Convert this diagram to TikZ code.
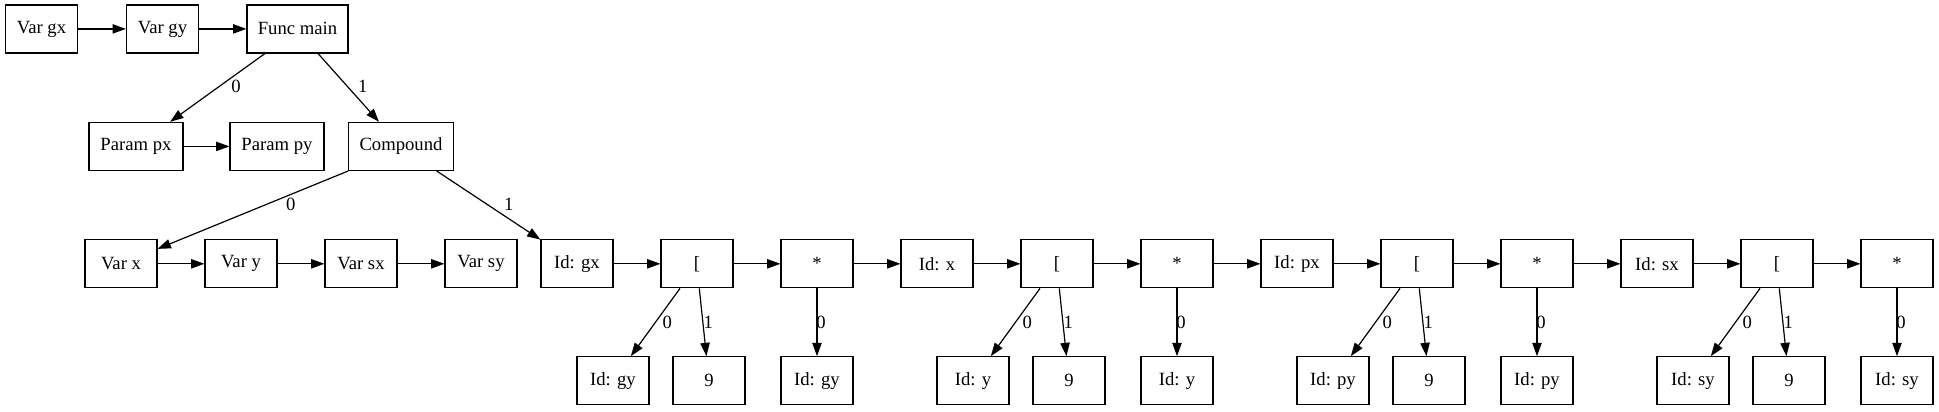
\documentclass[tikz,border=0pt]{standalone}
\usepackage{fontspec}
\setmainfont{Liberation Serif}
\usetikzlibrary{arrows.meta,calc}
\tikzset{
  box/.style={draw, line width=0.9pt, rectangle, minimum width=54pt, minimum height=36pt, inner sep=0pt, font=\fontsize{14}{16}\selectfont},
  lbl/.style={inner sep=0pt, font=\fontsize{14}{16}\selectfont},
  conn/.style={draw, line width=0.9pt, -{Triangle[length=10pt,width=7pt]}},
}
\begin{document}
\begin{tikzpicture}[x=0.75pt,y=-0.75pt]
\useasboundingbox (0,0) rectangle (1939,411);
% row 1
\node[box] (vgx) at (41.5,28.9) {Var gx};
\node[box] (vgy) at (162.5,28.9) {Var gy};
\node[box, minimum width=75.75pt] (fm) at (297.5,28.9) {Func main};
% row 2
\node[box, minimum width=70.5pt] (ppx) at (136,146.4) {Param px};
\node[box, minimum width=70.5pt] (ppy) at (277,146.4) {Param py};
\node[box, minimum width=78.4pt] (cmp) at (401,146.4) {Compound};
% row 3 vars
\node[box] (vx) at (121,263.8) {Var x};
\node[box] (vy) at (241,263.8) {Var y};
\node[box] (vsx) at (361,263.8) {Var sx};
\node[box] (vsy) at (481,263.8) {Var sy};
% groups
\foreach \i/\a/\b in {0/gx/gy,1/x/y,2/px/py,3/sx/sy}{
  \node[box] (id\i) at ({577+360*\i},263.8) {Id: \a};
  \node[box] (br\i) at ({697+360*\i},263.8) {[};
  \node[box] (st\i) at ({817+360*\i},263.8) {*};
  \node[box] (L\i) at ({613+360*\i},380.8) {Id: \b};
  \node[box] (N\i) at ({709+360*\i},380.8) {9};
  \node[box] (R\i) at ({817+360*\i},380.8) {Id: \b};
  \draw[conn] (id\i) -- (br\i);
  \draw[conn] (br\i) -- (st\i);
  \draw[conn] ($(br\i.south)+(-17,0)$) -- (L\i);
  \draw[conn] ($(br\i.south)+(2.3,0)$) -- (N\i);
  \draw[conn] (st\i) -- (R\i);
  \node[lbl] (la\i) at ({667.3+360*\i},322.3) {0};
  \node[lbl] (lb\i) at ({708.3+360*\i},322.3) {1};
  \node[lbl] (lc\i) at ({821+360*\i},322.3) {0};
}
\foreach \i/\j in {0/1,1/2,2/3}{
  \draw[conn] (st\i) -- (id\j);
}
% row edges
\draw[conn] (vgx) -- (vgy);
\draw[conn] (vgy) -- (fm);
\draw[conn] (ppx) -- (ppy);
\draw[conn] (vx) -- (vy);
\draw[conn] (vy) -- (vsx);
\draw[conn] (vsx) -- (vsy);
% tree edges
\draw[conn] ($(fm.south)+(-32.5,0)$) -- (ppx);
\draw[conn] ($(fm.south)+(20.5,0)$) -- (cmp);
\draw[conn] (cmp.south west) -- (vx);
\draw[conn] ($(cmp.south)+(35.7,0)$) -- (id0);
\node[lbl] (l1) at (236,86.7) {0};
\node[lbl] (l2) at (362.7,86.7) {1};
\node[lbl] (l3) at (290.7,204) {0};
\node[lbl] (l4) at (508.7,204) {1};
\end{tikzpicture}
\end{document}
